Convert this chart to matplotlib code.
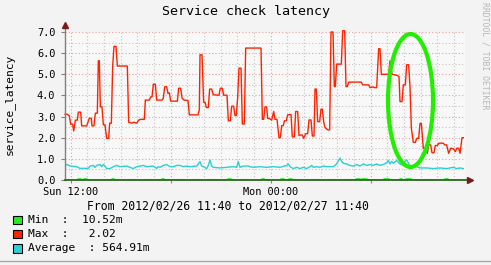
import matplotlib
matplotlib.use("Agg")
import matplotlib.pyplot as plt
from matplotlib.patches import Ellipse, Rectangle
from matplotlib.lines import Line2D

mono = "DejaVu Sans Mono"

# time axis: hours since 2012/02/26 11:40
max_t = [0.00, 0.14, 0.26, 0.34, 0.46, 0.52, 0.62, 0.74, 0.80, 0.94, 1.00, 1.30, 1.46, 1.58,
         1.62, 1.74, 1.82, 1.94, 2.00, 2.06, 2.12, 2.22, 2.30, 2.40, 2.50, 2.62, 2.68, 2.78,
         2.86, 2.94, 3.06, 3.14, 3.74, 3.82, 4.00, 4.14, 4.30, 4.42, 4.54, 4.76, 4.82, 5.06,
         5.14, 5.22, 5.30, 5.42, 5.50, 5.82, 5.90, 5.98, 6.10, 6.18, 6.26, 6.34, 6.74, 6.82,
         6.94, 7.02, 7.14, 7.38, 7.46, 7.98, 8.06, 8.10, 8.22, 8.32, 8.40, 8.48, 8.60, 8.68,
         8.80, 8.90, 9.24, 9.32, 9.44, 9.52, 9.72, 9.80, 9.92, 10.00, 10.12, 10.20, 10.28,
         10.36, 10.44, 10.56, 10.64, 10.76, 10.84, 11.76, 11.84, 11.92, 12.00, 12.10, 12.16,
         12.28, 12.40, 12.52, 12.60, 12.72, 12.84, 12.92, 13.00, 13.10, 13.16, 13.28, 13.36,
         13.56, 13.64, 13.76, 13.84, 13.96, 14.04, 14.16, 14.24, 14.32, 14.44, 14.56, 14.64,
         14.76, 14.84, 14.94, 15.00, 15.08, 15.16, 15.28, 15.36, 15.44, 15.52, 15.60, 15.76,
         15.88, 15.96, 16.08, 16.16, 16.22, 16.30, 16.58, 16.66, 16.78, 16.86, 16.94, 17.02,
         17.78, 17.86, 18.22, 18.30, 18.50, 18.58, 18.70, 18.82, 18.90, 18.98, 19.42, 19.50,
         19.62, 19.92, 20.04, 20.10, 20.22, 20.30, 20.42, 20.50, 20.62, 20.70, 20.78, 20.90,
         21.02, 21.10, 21.22, 21.30, 21.38, 21.50, 21.60, 21.74, 21.82, 21.94, 22.02, 22.14,
         22.22, 22.34, 22.42, 22.70, 22.78, 22.90, 23.02, 23.14, 23.30, 23.42, 23.50, 23.62,
         23.70, 23.82, 23.90]
max_v = [3.11, 3.11, 3.03, 2.64, 2.64, 2.32, 2.83, 2.83, 3.21, 3.21, 2.56, 2.56, 2.92, 2.92,
         2.56, 2.56, 3.16, 3.16, 5.64, 5.64, 3.46, 3.46, 2.61, 2.61, 1.97, 1.97, 2.69, 2.69,
         5.37, 6.32, 6.32, 5.39, 5.39, 2.73, 2.69, 2.73, 2.69, 2.83, 2.87, 2.87, 3.78, 3.78,
         3.93, 3.93, 4.53, 4.53, 3.78, 3.78, 3.87, 4.41, 4.41, 4.09, 4.12, 3.73, 3.73, 4.34,
         4.34, 3.88, 3.78, 3.76, 3.08, 3.08, 3.32, 5.92, 5.92, 3.68, 3.68, 3.43, 3.43, 4.30,
         4.30, 4.03, 4.01, 4.34, 4.34, 4.01, 4.01, 2.80, 2.80, 3.49, 3.49, 3.05, 3.05,
         3.90, 5.29, 5.29, 2.65, 2.65, 6.24, 6.24, 2.87, 2.87, 3.46, 3.46, 2.92,
         2.90, 2.83, 3.24, 2.87, 2.87, 2.00, 2.00, 2.57, 2.57, 2.80, 2.80, 3.08,
         3.10, 2.04, 2.04, 3.24, 3.24, 2.10, 2.13, 2.13, 1.97, 2.19, 2.19, 2.84,
         2.84, 2.08, 2.08, 4.30, 4.30, 2.76, 2.76, 3.35, 3.35, 2.76, 2.48, 2.37,
         2.37, 7.00, 7.00, 4.42, 4.42, 5.48, 5.48, 7.06, 7.06, 4.42, 4.42, 4.63,
         4.63, 4.50, 4.50, 4.37, 4.40, 4.37, 4.37, 6.21, 6.21, 5.00, 5.00, 5.64,
         5.00, 4.95, 4.89, 3.71, 3.71, 4.50, 4.50, 5.45, 5.45, 4.41, 2.45, 1.78,
         1.78, 1.97, 1.97, 2.68, 2.68, 1.50, 1.50, 1.26, 1.66, 1.66, 1.29, 1.29,
         1.63, 1.63, 1.74, 1.74, 1.66, 1.66, 1.26, 1.50, 1.48, 1.34, 1.50, 1.50,
         1.26, 2.00, 2.00]

avg_t = [0.00, 0.10, 0.30, 0.70, 0.90, 1.40, 1.50, 1.70, 1.80, 1.90, 2.10, 2.20, 2.30, 2.40,
         2.50, 2.70, 2.90, 3.10, 3.30, 3.70, 3.90, 4.10, 4.30, 4.50, 4.70, 4.90, 5.30, 5.50,
         5.60, 5.70, 5.90, 6.10, 6.30, 6.50, 6.70, 6.90, 7.10, 7.30, 7.50, 7.90, 8.10, 8.20,
         8.30, 8.50, 8.60, 8.70, 8.80, 8.90, 9.30, 9.70, 10.10, 10.30, 10.40, 10.50, 10.70,
         11.00, 11.10, 11.30, 11.70, 12.10, 12.50, 12.90, 13.30, 13.40, 13.50, 13.70, 13.90,
         14.10, 14.30, 14.50, 14.70, 14.80, 14.90, 15.10, 15.30, 15.50, 15.70, 16.10, 16.30,
         16.50, 16.60, 16.70, 16.90, 17.10, 17.30, 17.50, 17.70, 17.90, 18.10, 18.30, 18.50,
         18.70, 18.90, 19.10, 19.30, 19.40, 19.50, 19.60, 19.70, 19.90, 20.10, 20.30, 20.40,
         20.50, 20.60, 20.70, 20.90, 21.10, 21.30, 21.70, 22.10, 22.50, 22.90, 23.30, 23.50,
         23.70, 23.90]
avg_v = [0.66, 0.74, 0.66, 0.63, 0.55, 0.55, 0.66, 0.69, 0.60, 0.69, 0.73, 0.63, 0.73, 0.66,
         0.54, 0.54, 0.63, 0.69, 0.63, 0.66, 0.60, 0.54, 0.63, 0.66, 0.69, 0.63, 0.66, 0.55,
         0.63, 0.60, 0.69, 0.73, 0.63, 0.63, 0.69, 0.69, 0.63, 0.66, 0.63, 0.66, 0.87, 0.66,
         0.63, 0.54, 0.69, 0.95, 0.66, 0.60, 0.57, 0.60, 0.63, 0.60, 0.87, 0.60, 0.66,
         0.66, 0.63, 0.60, 0.63, 0.60, 0.63, 0.60, 0.69, 0.76, 0.63, 0.54, 0.60,
         0.54, 0.60, 0.54, 0.63, 0.69, 0.60, 0.63, 0.60, 0.66, 0.63, 0.63, 0.76,
         1.04, 0.88, 0.79, 0.76, 0.69, 0.66, 0.73, 0.66, 0.76, 0.69, 0.73, 0.69,
         0.76, 0.69, 0.73, 0.82, 0.92, 0.76, 0.88, 0.79, 0.92, 0.76, 0.69, 0.88,
         0.95, 0.82, 0.66, 0.60, 0.63, 0.57, 0.57, 0.54, 0.57, 0.54, 0.60, 0.54,
         0.57, 0.54]

min_t = [0.00, 0.78, 0.96, 1.14, 1.32, 2.82, 2.94, 5.82, 5.94, 9.78, 9.96, 11.82, 11.94,
         12.96, 13.14, 13.44, 13.62, 17.46, 17.70, 17.82, 18.12, 19.14, 19.44, 20.10, 20.22,
         20.46, 20.76, 22.80, 22.98, 23.90]
min_v = [0.01, 0.06, 0.01, 0.06, 0.01, 0.06, 0.01, 0.06, 0.01, 0.06, 0.01, 0.06, 0.01,
         0.06, 0.01, 0.06, 0.01, 0.06, 0.01, 0.06, 0.01, 0.06, 0.01, 0.06, 0.01,
         0.06, 0.01, 0.06, 0.01, 0.01]

x_ticks = [0.333, 6.333, 12.333, 18.333]
x_labels = ["Sun 12:00", "", "Mon 00:00", ""]
y_ticks = [0, 1, 2, 3, 4, 5, 6, 7]

legend_labels = ["Min  :  10.52m", "Max  :   2.02", "Average  : 564.91m"]
legend_colors = ["#22ee22", "#ff2200", "#2ccfd6"]

W, H = 491, 265
fig = plt.figure(figsize=(W / 100, H / 100), dpi=100, facecolor="#f3f3f3")
ax = fig.add_axes([65 / W, 85 / H, 400 / W, 148 / H])
ax.set_facecolor("#f8f8f8")
ax.set_xlim(0, 24)
ax.set_ylim(0, 7)
for s in ax.spines.values():
    s.set_visible(False)

# grid, rrdtool style
dots = (0, (1, 2))
for h in range(24):
    xv = 0.333 + h
    if h % 6 == 0:
        ax.axvline(xv, color="#e9a0a0", lw=0.8, ls=dots, zorder=1)
    else:
        ax.axvline(xv, color="#c4c4c4", lw=0.8, ls=dots, zorder=1)
for k in range(1, 15):
    yv = k * 0.5
    if k % 2 == 0:
        ax.axhline(yv, color="#e9a0a0", lw=0.8, ls=dots, zorder=1)
    else:
        ax.axhline(yv, color="#c4c4c4", lw=0.8, ls=dots, zorder=1)

ax.plot(avg_t, avg_v, color="#2ccfd6", lw=1.0, zorder=3)
ax.plot(max_t, max_v, color="#ff2200", lw=1.0, zorder=4, clip_on=False)
ax.plot(min_t, min_v, color="#22ee22", lw=1.2, drawstyle="steps-post", zorder=5)

# axes with arrows
ax.add_line(Line2D([0, 0], [0, 1.045], transform=ax.transAxes, color="#808080",
                   lw=1.0, clip_on=False, zorder=6))
ax.add_line(Line2D([0, 1.01], [0, 0], transform=ax.transAxes, color="#2b6b1c",
                   lw=1.3, clip_on=False, zorder=6))
ax.plot([0], [1.045], marker="^", ms=5, color="#7a1a1a", transform=ax.transAxes,
        clip_on=False, zorder=7)
ax.plot([1.012], [0], marker=">", ms=5, color="#7a1a1a", transform=ax.transAxes,
        clip_on=False, zorder=7)

ax.set_yticks(y_ticks)
ax.set_yticklabels(["%.1f" % v for v in y_ticks], family=mono, fontsize=7.4)
ax.set_xticks(x_ticks)
ax.set_xticklabels(x_labels, family=mono, fontsize=7.4)
ax.tick_params(axis="y", length=3, width=0.8, color="#808080", pad=4)
ax.tick_params(axis="x", length=2, width=0.8, color="#e06060", pad=3)

# highlight ellipse drawn over the chart
ax.add_patch(Ellipse((20.73, 3.76), 2.7, 6.29, fill=False, edgecolor="#22ee00",
                     lw=3, clip_on=False, zorder=10))

fig.text(245.5 / W, 1 - 12 / H, "Service check latency", ha="center", va="center",
         family=mono, fontsize=9.6)
fig.text(9 / W, 1 - 104 / H, "service_latency", ha="center", va="center",
         rotation=90, family=mono, fontsize=8.1)
fig.text(485 / W, 1 - 56 / H, "RRDTOOL / TOBI OETIKER", ha="center", va="center",
         rotation=-90, family=mono, fontsize=5.9, color="#b8b8b8")
fig.text(87 / W, 1 - 206 / H, "From 2012/02/26 11:40 to 2012/02/27 11:40",
         ha="left", va="center", family=mono, fontsize=8.3)

for i, (lab, col) in enumerate(zip(legend_labels, legend_colors)):
    yc = 220 + i * 14.2
    fig.patches.append(Rectangle((13.3 / W, 1 - (yc + 4.2) / H), 8.4 / W, 8.4 / H,
                                 transform=fig.transFigure, facecolor=col,
                                 edgecolor="black", lw=0.8))
    fig.text(28.3 / W, 1 - yc / H, lab, ha="left", va="center", family=mono, fontsize=8.1)

fig.add_artist(Line2D([0, 1], [1 - 260.5 / H, 1 - 260.5 / H], transform=fig.transFigure,
                      color="#a8a8a8", lw=1.0))

fig.savefig("out.png", dpi=100, facecolor=fig.get_facecolor())
